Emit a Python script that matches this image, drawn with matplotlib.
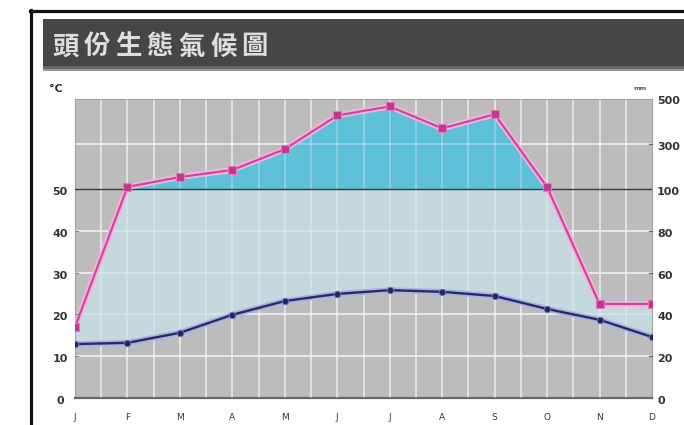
import numpy as np
import matplotlib
matplotlib.use("Agg")
import matplotlib.pyplot as plt
import matplotlib.transforms as mtransforms
from matplotlib.patches import Rectangle
from matplotlib.lines import Line2D

# ---------------- data ----------------
months = ["J", "F", "M", "A", "M", "J", "J", "A", "S", "O", "N", "D"]
temp_c = [12.9, 13.2, 15.6, 19.9, 23.2, 24.9, 25.8, 25.4, 24.4, 21.3, 18.7, 14.6]
precip_mm = [34, 109, 153, 184, 276, 425, 465, 368, 430, 109, 45, 45]
left_ticks = [0, 10, 20, 30, 40, 50]
right_ticks_mm = [0, 20, 40, 60, 80, 100, 300, 500]
title = "頭份生態氣候圖"

# ---------------- layout helpers ----------------
W, H = 684, 425
def fx(px):
    return px / W
def fy(py):
    return 1 - py / H

TOP = 71.65            # axis top in temperature units
UPPER_SPAN = TOP - 50  # 100..500 mm compressed range

def mm_to_units(mm):
    mm = np.asarray(mm, float)
    return np.where(mm <= 100, mm / 2.0, 50 + (mm - 100) / 400.0 * UPPER_SPAN)

fig = plt.figure(figsize=(W / 100, H / 100), dpi=100)
fig.patch.set_facecolor("white")

# outer frame
fig.add_artist(Line2D([fx(30.5), fx(30.5)], [fy(10), fy(430)], transform=fig.transFigure,
                      color="#111111", lw=2.3))
fig.add_artist(Line2D([fx(29.5), fx(690)], [fy(10.5), fy(10.5)], transform=fig.transFigure,
                      color="#111111", lw=2.3))

# title bar
fig.add_artist(Rectangle((fx(43), fy(71)), fx(W - 43 + 5), 52 / H, transform=fig.transFigure,
                         facecolor="#464646", edgecolor="none"))
fig.add_artist(Rectangle((fx(43), fy(71)), fx(W - 43 + 5), 5 / H, transform=fig.transFigure,
                         facecolor="#666666", edgecolor="none"))
fig.add_artist(Rectangle((fx(43), fy(71)), fx(W - 43 + 5), 2.5 / H, transform=fig.transFigure,
                         facecolor="#999999", edgecolor="none"))
for i, ch in enumerate(title):
    fig.text(fx(52 + i * 31.6), fy(47), ch, ha="left", va="center", fontsize=19,
             color="#dedede", fontweight="bold",
             family=["Noto Sans CJK TC", "DejaVu Sans"])

# ---------------- axes ----------------
ax = fig.add_axes([fx(75), fy(398), fx(652) - fx(75), (398 - 98.5) / H])
ax.set_facecolor("#bcbcbc")
x = np.arange(len(months))
ax.set_xlim(0, 11)
ax.set_ylim(0, TOP)

p_units = mm_to_units(precip_mm)
t = np.asarray(temp_c, float)

grid_y = [10, 20, 30, 40, float(mm_to_units(300))]
grid_x = np.arange(0.5, 11, 0.5)
for xv in grid_x:
    ax.axvline(xv, color="#dcdcdc", lw=1.3, zorder=1)
for yv in grid_y:
    ax.axhline(yv, color="#e2e2e2", lw=1.3, zorder=1)

ax.fill_between(x, t, p_units, color="#c5d8de", zorder=2, lw=0)
ax.fill_between(x, 50, p_units, where=p_units > 50, interpolate=True,
                color="#5fc1d9", zorder=3, lw=0)

for xv in grid_x:
    ax.axvline(xv, color="white", lw=1.2, alpha=0.3, zorder=3.5)
for yv in grid_y:
    ax.axhline(yv, color="white", lw=1.2, alpha=0.3, zorder=3.5)

ax.axhline(50, color="#3a3a3a", lw=1.0, zorder=4)

# precipitation line
ax.plot(x, p_units, color="#f0b6dc", lw=4.2, zorder=5, solid_capstyle="round")
ax.plot(x, p_units, color="#d4449c", lw=1.6, zorder=6, marker="s", ms=5.2,
        mfc="#c4358e", mec="#e07cbe", mew=0.8)

# temperature line
ax.plot(x, t, color="#aab3e0", lw=4.2, zorder=5, solid_capstyle="round")
ax.plot(x, t, color="#262a68", lw=1.7, zorder=6, marker="o", ms=4.6,
        mfc="#22265e", mec="#6c74b8", mew=0.7)

for side in ["left", "right", "top"]:
    ax.spines[side].set_color("#a0a0a0")
    ax.spines[side].set_linewidth(0.8)
ax.spines["bottom"].set_color("#666666")
ax.spines["bottom"].set_linewidth(1.6)
ax.set_xticks([])
ax.set_yticks([])

# small inner ticks
for yv in [10, 20, 30, 40]:
    ax.plot([0, 0.06], [yv, yv], color="#8a8a8a", lw=0.9, zorder=7, clip_on=False)
for mmv in [20, 60, 80, 300]:
    yv = float(mm_to_units(mmv))
    ax.plot([10.94, 11], [yv, yv], color="#6a6a6a", lw=0.9, zorder=7, clip_on=False)

# tick labels
ytrans = mtransforms.offset_copy(ax.get_yaxis_transform(), fig=fig, y=-3, units="dots")
lab_kw = dict(fontsize=8, fontweight="bold", color="#333333", family="DejaVu Sans")
for v in left_ticks:
    ax.text((60 - 75) / 577, v, str(v), transform=ytrans, ha="center", va="center", **lab_kw)
for v in right_ticks_mm:
    ax.text((657 - 75) / 577, float(mm_to_units(v)), str(v), transform=ytrans,
            ha="left", va="center", **lab_kw)

xtrans = ax.get_xaxis_transform()
for i, m in enumerate(months):
    ax.text(i, (398 - 418) / 299.5, m, transform=xtrans, ha="center", va="center",
            fontsize=6.5, color="#333333", family="DejaVu Sans")

fig.text(fx(49), fy(89), "°C", ha="left", va="center", fontsize=8, fontweight="bold",
         color="#333333")
fig.text(fx(633), fy(89), "mm", ha="left", va="center", fontsize=4.5, fontweight="bold",
         color="#555555")

fig.savefig("out.png", dpi=100)
